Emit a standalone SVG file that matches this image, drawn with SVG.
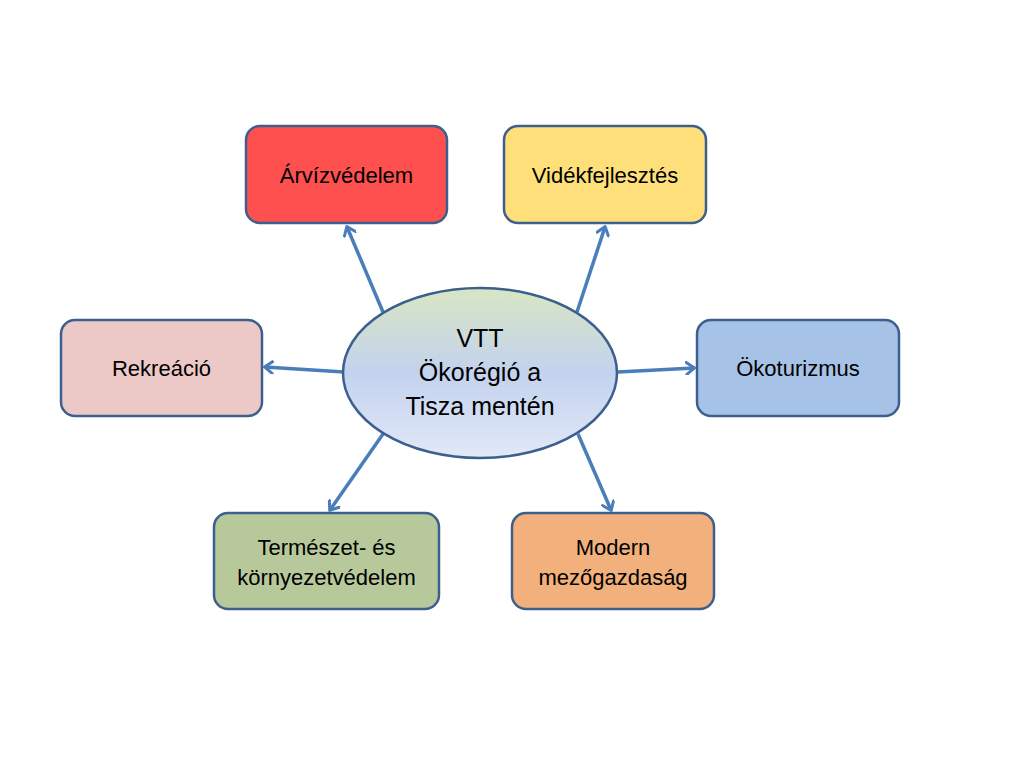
<svg xmlns="http://www.w3.org/2000/svg" width="1024" height="768" viewBox="0 0 1024 768">
<defs>
<style>
.box{stroke:#3c5f8e;stroke-width:2.5}
.t{font-family:"Liberation Sans","Noto Sans",sans-serif;font-size:22px;fill:#000;text-anchor:middle}
.tc{font-family:"Liberation Sans","Noto Sans",sans-serif;font-size:25px;fill:#000;text-anchor:middle}
.arr{stroke:#4a7ebb;stroke-width:3.5;fill:none;marker-end:url(#ah)}
</style>
<linearGradient id="eg" x1="0" y1="0" x2="0" y2="1">
<stop offset="0" stop-color="#d8e6c4"/>
<stop offset="0.5" stop-color="#c3d2ee"/>
<stop offset="1" stop-color="#e2e9f7"/>
</linearGradient>
<marker id="ah" markerWidth="14" markerHeight="14" refX="9" refY="7" orient="auto" markerUnits="userSpaceOnUse" viewBox="0 0 14 14">
<path d="M1.5,1 L9.5,7 L1.5,13" fill="none" stroke="#4a7ebb" stroke-width="3" stroke-linecap="round" stroke-linejoin="round"/>
</marker>
</defs>
<rect width="1024" height="768" fill="#fff"/>
<g id="connectors">
<line class="arr" x1="383" y1="312" x2="347" y2="227"/>
<line class="arr" x1="577" y1="312" x2="605" y2="227"/>
<line class="arr" x1="344" y1="372" x2="265" y2="367"/>
<line class="arr" x1="618" y1="372" x2="694" y2="368"/>
<line class="arr" x1="383" y1="434" x2="330" y2="510"/>
<line class="arr" x1="578" y1="434" x2="611" y2="510"/>
</g>
<g id="center">
<ellipse cx="480" cy="373" rx="137" ry="85" fill="url(#eg)" class="box"/>
<text class="tc" x="480" y="347">VTT</text>
<text class="tc" x="480" y="381">Ökorégió a</text>
<text class="tc" x="480" y="415">Tisza mentén</text>
</g>
<g id="arvizvedelem">
<rect x="246" y="126" width="201" height="97" rx="14" fill="#ff5050" class="box"/>
<text class="t" x="346.5" y="183">Árvízvédelem</text>
</g>
<g id="videkfejlesztes">
<rect x="504" y="126" width="202" height="97" rx="14" fill="#ffdf7a" class="box"/>
<text class="t" x="605" y="183">Vidékfejlesztés</text>
</g>
<g id="rekreacio">
<rect x="61" y="320" width="201" height="96" rx="14" fill="#ecc9c7" class="box"/>
<text class="t" x="161.5" y="376">Rekreáció</text>
</g>
<g id="okoturizmus">
<rect x="697" y="320" width="202" height="96" rx="14" fill="#a7c2e7" class="box"/>
<text class="t" x="798" y="376">Ökoturizmus</text>
</g>
<g id="termeszet">
<rect x="214" y="513" width="225" height="96" rx="14" fill="#b7c99b" class="box"/>
<text class="t" x="326.5" y="555">Természet- és</text>
<text class="t" x="326.5" y="585">környezetvédelem</text>
</g>
<g id="mezogazdasag">
<rect x="512" y="513" width="202" height="96" rx="14" fill="#f2b07d" class="box"/>
<text class="t" x="613" y="555">Modern</text>
<text class="t" x="613" y="585">mezőgazdaság</text>
</g>
</svg>
